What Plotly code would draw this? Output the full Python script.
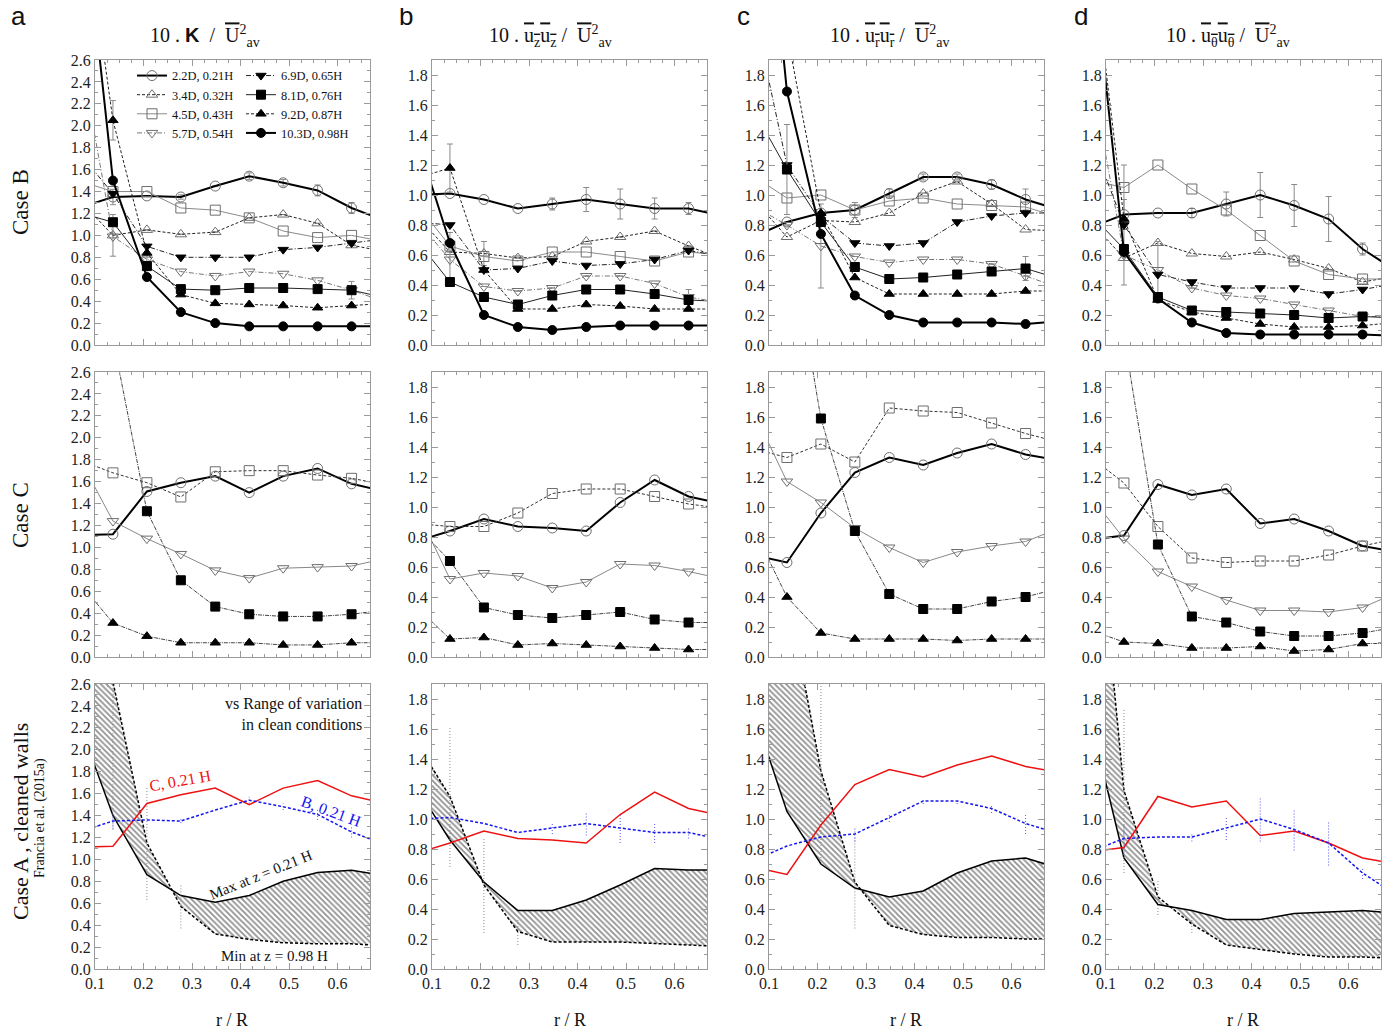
import plotly.graph_objects as go
from plotly.subplots import make_subplots

# target picture size and the page's default body offset
W, H = 1392, 1032
OFF = 8
FW, FH = W - OFF, H - OFF
SERIF = "Liberation Serif"
SANS = "Liberation Sans"

# radial positions r/R (first and last points lie just outside the plotted window)
R = [0.066, 0.137, 0.207, 0.277, 0.348, 0.418, 0.488, 0.559, 0.629, 0.700]

STATIONS_B = ["2.2D", "3.4D", "4.5D", "5.7D", "6.9D", "8.1D", "9.2D", "10.3D"]
HEIGHTS_B = ["0.21H", "0.32H", "0.43H", "0.54H", "0.65H", "0.76H", "0.87H", "0.98H"]
STATIONS_C = ["2.2D", "4.5D", "5.7D", "8.1D", "9.2D"]

# ---------------- Case B ----------------
B_K = {
    "2.2D": [1.25, 1.35, 1.36, 1.35, 1.45, 1.54, 1.48, 1.41, 1.25, 1.13],
    "3.4D": [1.33, 1.00, 1.05, 1.01, 1.03, 1.16, 1.19, 1.11, 0.91, 0.85],
    "4.5D": [1.50, 1.40, 1.40, 1.25, 1.23, 1.16, 1.04, 0.98, 1.00, 0.94],
    "5.7D": [2.74, 0.99, 0.78, 0.67, 0.63, 0.67, 0.65, 0.59, 0.50, 0.39],
    "6.9D": [1.76, 1.38, 0.90, 0.80, 0.80, 0.80, 0.87, 0.89, 0.93, 0.97],
    "8.1D": [1.21, 1.12, 0.72, 0.51, 0.50, 0.52, 0.52, 0.51, 0.50, 0.43],
    "9.2D": [4.30, 2.05, 0.84, 0.46, 0.38, 0.37, 0.36, 0.34, 0.36, 0.38],
    "10.3D": [4.40, 1.50, 0.62, 0.30, 0.20, 0.17, 0.17, 0.17, 0.17, 0.17],
}
B_UZ = {
    "2.2D": [1.00, 1.01, 0.97, 0.91, 0.94, 0.97, 0.94, 0.91, 0.91, 0.86],
    "3.4D": [0.87, 0.62, 0.61, 0.58, 0.59, 0.69, 0.72, 0.76, 0.66, 0.57],
    "4.5D": [0.95, 0.66, 0.59, 0.56, 0.62, 0.62, 0.59, 0.56, 0.62, 0.60],
    "5.7D": [0.84, 0.57, 0.39, 0.36, 0.38, 0.46, 0.46, 0.41, 0.32, 0.28],
    "6.9D": [0.82, 0.80, 0.50, 0.51, 0.56, 0.53, 0.54, 0.57, 0.63, 0.59],
    "8.1D": [0.71, 0.42, 0.32, 0.27, 0.33, 0.37, 0.37, 0.34, 0.30, 0.29],
    "9.2D": [1.11, 1.18, 0.50, 0.24, 0.24, 0.27, 0.26, 0.24, 0.24, 0.24],
    "10.3D": [1.40, 0.68, 0.20, 0.12, 0.10, 0.12, 0.13, 0.13, 0.13, 0.13],
}
B_UR = {
    "2.2D": [0.72, 0.82, 0.88, 0.90, 1.01, 1.12, 1.12, 1.07, 0.97, 0.90],
    "3.4D": [0.98, 0.72, 0.83, 0.82, 0.88, 1.01, 1.09, 0.94, 0.77, 0.76],
    "4.5D": [1.13, 0.98, 1.00, 0.90, 0.96, 0.98, 0.94, 0.93, 0.92, 0.85],
    "5.7D": [0.93, 0.80, 0.66, 0.59, 0.55, 0.57, 0.57, 0.54, 0.46, 0.38],
    "6.9D": [2.27, 1.20, 0.86, 0.68, 0.66, 0.68, 0.82, 0.86, 0.88, 0.88],
    "8.1D": [1.58, 1.17, 0.82, 0.52, 0.44, 0.45, 0.47, 0.49, 0.51, 0.44],
    "9.2D": [3.30, 2.07, 0.88, 0.45, 0.34, 0.34, 0.34, 0.34, 0.36, 0.36],
    "10.3D": [4.00, 1.69, 0.74, 0.33, 0.20, 0.15, 0.15, 0.15, 0.14, 0.16],
}
B_UT = {
    "2.2D": [0.78, 0.87, 0.88, 0.88, 0.94, 1.00, 0.93, 0.84, 0.64, 0.49],
    "3.4D": [0.83, 0.58, 0.68, 0.61, 0.59, 0.62, 0.57, 0.51, 0.42, 0.46],
    "4.5D": [1.10, 1.05, 1.20, 1.04, 0.90, 0.73, 0.56, 0.47, 0.44, 0.44],
    "5.7D": [1.86, 0.60, 0.50, 0.38, 0.33, 0.31, 0.27, 0.23, 0.19, 0.19],
    "6.9D": [1.40, 0.80, 0.47, 0.42, 0.38, 0.38, 0.38, 0.34, 0.37, 0.41],
    "8.1D": [0.88, 0.64, 0.32, 0.23, 0.22, 0.21, 0.20, 0.18, 0.19, 0.18],
    "9.2D": [2.74, 0.84, 0.30, 0.22, 0.18, 0.14, 0.12, 0.12, 0.13, 0.15],
    "10.3D": [2.76, 0.62, 0.31, 0.15, 0.08, 0.07, 0.07, 0.07, 0.07, 0.06],
}
# error bars (half-widths) shown in Case B panels
ERR_B_K = {
    "2.2D": [0, 0.07, 0, 0.02, 0, 0.03, 0.03, 0.05, 0.05, 0],
    "3.4D": [0, 0.19, 0, 0, 0, 0, 0, 0, 0, 0],
    "8.1D": [0, 0, 0.10, 0, 0, 0, 0, 0, 0.08, 0],
    "9.2D": [0, 0.18, 0, 0, 0, 0, 0, 0, 0, 0],
}
ERR_B_UZ = {
    "2.2D": [0, 0, 0, 0, 0.04, 0.08, 0.10, 0.07, 0.04, 0],
    "3.4D": [0, 0, 0.08, 0, 0, 0, 0, 0, 0, 0],
    "5.7D": [0, 0.18, 0, 0, 0, 0, 0, 0, 0, 0],
    "8.1D": [0, 0, 0, 0, 0, 0, 0, 0, 0.07, 0],
    "9.2D": [0, 0.16, 0, 0, 0, 0, 0, 0, 0, 0],
}
ERR_B_UR = {
    "2.2D": [0, 0, 0, 0.05, 0.03, 0.02, 0.02, 0.03, 0.07, 0],
    "5.7D": [0, 0, 0.28, 0, 0, 0, 0, 0, 0, 0],
    "8.1D": [0, 0.30, 0, 0, 0, 0, 0, 0, 0.08, 0],
}
ERR_B_UT = {
    "2.2D": [0, 0.10, 0, 0.03, 0.08, 0.15, 0.14, 0.15, 0.04, 0],
    "5.7D": [0, 0, 0.19, 0, 0, 0, 0, 0, 0, 0],
    "6.9D": [0, 0.40, 0, 0, 0, 0, 0, 0, 0, 0],
}

# ---------------- Case C ----------------
C_K = {
    "2.2D": [1.11, 1.12, 1.51, 1.59, 1.65, 1.50, 1.65, 1.72, 1.58, 1.51],
    "4.5D": [1.80, 1.68, 1.59, 1.46, 1.69, 1.70, 1.70, 1.66, 1.63, 1.57],
    "5.7D": [1.83, 1.24, 1.08, 0.94, 0.79, 0.72, 0.81, 0.82, 0.83, 0.90],
    "8.1D": [4.50, 2.92, 1.33, 0.70, 0.46, 0.39, 0.37, 0.37, 0.39, 0.43],
    "9.2D": [0.69, 0.31, 0.19, 0.13, 0.13, 0.13, 0.11, 0.11, 0.13, 0.13],
}
C_UZ = {
    "2.2D": [0.77, 0.84, 0.92, 0.87, 0.86, 0.84, 1.03, 1.18, 1.07, 1.02],
    "4.5D": [0.89, 0.87, 0.87, 0.96, 1.09, 1.12, 1.12, 1.07, 1.02, 0.99],
    "5.7D": [1.00, 0.52, 0.56, 0.54, 0.46, 0.50, 0.62, 0.61, 0.57, 0.52],
    "8.1D": [0.88, 0.64, 0.33, 0.28, 0.26, 0.28, 0.30, 0.25, 0.23, 0.23],
    "9.2D": [0.34, 0.12, 0.13, 0.08, 0.09, 0.08, 0.07, 0.06, 0.05, 0.05],
}
C_UR = {
    "2.2D": [0.68, 0.63, 0.96, 1.23, 1.33, 1.28, 1.36, 1.42, 1.35, 1.31],
    "4.5D": [1.39, 1.33, 1.42, 1.30, 1.66, 1.64, 1.63, 1.56, 1.49, 1.43],
    "5.7D": [1.65, 1.17, 1.03, 0.86, 0.73, 0.63, 0.70, 0.74, 0.77, 0.86],
    "8.1D": [4.30, 2.92, 1.59, 0.84, 0.42, 0.32, 0.32, 0.37, 0.40, 0.46],
    "9.2D": [0.87, 0.40, 0.16, 0.12, 0.12, 0.12, 0.11, 0.12, 0.12, 0.12],
}
C_UT = {
    "2.2D": [0.78, 0.81, 1.15, 1.08, 1.12, 0.89, 0.92, 0.84, 0.74, 0.70],
    "4.5D": [1.34, 1.16, 0.87, 0.66, 0.63, 0.64, 0.64, 0.68, 0.74, 0.79],
    "5.7D": [1.08, 0.79, 0.57, 0.47, 0.38, 0.31, 0.31, 0.30, 0.33, 0.43],
    "8.1D": [3.50, 2.14, 0.75, 0.27, 0.23, 0.17, 0.14, 0.14, 0.16, 0.20],
    "9.2D": [0.18, 0.10, 0.09, 0.06, 0.06, 0.07, 0.04, 0.05, 0.09, 0.09],
}

# ---------------- Case A (clean walls): range of variation ----------------
A_MAX_K = [2.26, 1.40, 0.86, 0.67, 0.61, 0.67, 0.80, 0.88, 0.90, 0.85]
A_MIN_K = [4.50, 2.62, 1.15, 0.57, 0.32, 0.27, 0.24, 0.23, 0.23, 0.21]
A_MAX_UZ = [1.22, 0.86, 0.58, 0.39, 0.39, 0.46, 0.56, 0.67, 0.66, 0.66]
A_MIN_UZ = [1.52, 1.15, 0.56, 0.25, 0.18, 0.18, 0.18, 0.17, 0.16, 0.15]
A_MAX_UR = [1.74, 1.05, 0.70, 0.54, 0.48, 0.52, 0.64, 0.72, 0.74, 0.67]
A_MIN_UR = [3.76, 2.53, 1.32, 0.58, 0.29, 0.23, 0.21, 0.21, 0.20, 0.20]
A_MAX_UT = [1.69, 0.74, 0.43, 0.39, 0.33, 0.33, 0.37, 0.38, 0.39, 0.37]
A_MIN_UT = [3.60, 1.19, 0.48, 0.30, 0.16, 0.13, 0.10, 0.08, 0.08, 0.07]
A_MIN_ERR_K = [0, 1.35, 0.52, 0.20, 0, 0, 0, 0, 0, 0]
A_MIN_ERR_UZ = [0, 0.47, 0.32, 0.09, 0, 0, 0, 0, 0, 0]
A_MIN_ERR_UR = [0, 0, 0.60, 0.31, 0, 0, 0, 0, 0, 0]
A_MIN_ERR_UT = [0, 0.55, 0.12, 0.06, 0, 0, 0, 0, 0, 0]

COL_B = [B_K, B_UZ, B_UR, B_UT]
COL_BERR = [ERR_B_K, ERR_B_UZ, ERR_B_UR, ERR_B_UT]
COL_C = [C_K, C_UZ, C_UR, C_UT]
COL_AMAX = [A_MAX_K, A_MAX_UZ, A_MAX_UR, A_MAX_UT]
COL_AMIN = [A_MIN_K, A_MIN_UZ, A_MIN_UR, A_MIN_UT]
COL_AMINERR = [A_MIN_ERR_K, A_MIN_ERR_UZ, A_MIN_ERR_UR, A_MIN_ERR_UT]

X_TICKS = [0.1, 0.2, 0.3, 0.4, 0.5, 0.6]
Y_MAX = [2.6, 1.9, 1.9, 1.9]

GRAY = "#6e6e6e"
DASH = "3px,2px"
DASHDOT = "5px,2px,1px,2px"
STYLE_B = {
    "2.2D": ("circle-open", GRAY, "black", 2.0, "solid"),
    "3.4D": ("triangle-up-open", GRAY, "#222", 1.0, DASH),
    "4.5D": ("square-open", GRAY, "#8a8a8a", 1.0, "solid"),
    "5.7D": ("triangle-down-open", GRAY, "#777", 1.0, DASHDOT),
    "6.9D": ("triangle-down", "black", "#222", 1.0, DASHDOT),
    "8.1D": ("square", "black", "#222", 1.0, "solid"),
    "9.2D": ("triangle-up", "black", "#222", 1.0, DASH),
    "10.3D": ("circle", "black", "black", 2.0, "solid"),
}
STYLE_C = {
    "2.2D": ("circle-open", GRAY, "black", 2.0, "solid"),
    "4.5D": ("square-open", GRAY, "#333", 1.0, DASH),
    "5.7D": ("triangle-down-open", GRAY, "#888", 1.0, "solid"),
    "8.1D": ("square", "black", "#444", 1.0, "4px,1px,1px,1px"),
    "9.2D": ("triangle-up", "black", "#444", 1.0, "4px,1px,1px,1px"),
}


def fx(px):
    return (px - OFF) / FW


def fy(py):
    return 1 - (py - OFF) / FH


fig = make_subplots(rows=3, cols=4)


def add_series(r, c, y, sty, name=None, legend=None, err=None):
    sym, mcol, lcol, lw, dash = sty
    filled = not sym.endswith("open")
    tr = go.Scatter(
        x=R, y=y, mode="lines+markers", name=name,
        showlegend=name is not None,
        line=dict(color=lcol, width=lw, dash=dash),
        marker=dict(symbol=sym, size=9 if filled else 10, color=mcol,
                    line=dict(width=1, color=mcol)),
        hoverinfo="skip",
    )
    if legend is not None:
        tr.legend = legend
    if err is not None:
        tr.error_y = dict(type="data", array=[e if e else None for e in err],
                          color="#8a8a8a", thickness=1, width=3)
    fig.add_trace(tr, row=r, col=c)


def add_dotted_bars(r, c, y, err, color):
    xs, ys = [], []
    for xv, yv, ev in zip(R, y, err):
        if ev:
            xs += [xv, xv, None]
            ys += [yv - ev, yv + ev, None]
    fig.add_trace(go.Scatter(x=xs, y=ys, mode="lines", showlegend=False,
                             line=dict(color=color, width=1, dash="1px,2px"),
                             hoverinfo="skip"), row=r, col=c)


for c in range(4):
    # row 1 : case B
    data = COL_B[c]
    errs = COL_BERR[c]
    for k, st in enumerate(STATIONS_B):
        name = None
        leg = None
        if c == 0:
            name = f"{st}, {HEIGHTS_B[k]}"
            leg = "legend" if k < 4 else "legend2"
        add_series(1, c + 1, data[st], STYLE_B[st], name, leg, errs.get(st))
    # row 2 : case C
    data = COL_C[c]
    for st in STATIONS_C:
        add_series(2, c + 1, data[st], STYLE_C[st])
    # row 3 : case A band + C/B at 0.21H
    fig.add_trace(go.Scatter(x=R, y=COL_AMIN[c], mode="lines", showlegend=False,
                             line=dict(color="black", width=1.5, dash=DASH),
                             hoverinfo="skip"), row=3, col=c + 1)
    fig.add_trace(go.Scatter(x=R, y=COL_AMAX[c], mode="lines", showlegend=False,
                             line=dict(color="black", width=1.5),
                             fill="tonexty", fillcolor="rgba(255,255,255,0)",
                             fillpattern=dict(shape="\\", fgcolor="#222", bgcolor="white",
                                              size=4, solidity=0.45),
                             hoverinfo="skip"), row=3, col=c + 1)
    add_dotted_bars(3, c + 1, COL_AMIN[c], COL_AMINERR[c], "#888")
    fig.add_trace(go.Scatter(x=R, y=COL_C[c]["2.2D"], mode="lines", showlegend=False,
                             line=dict(color="#ee1111", width=1.5), hoverinfo="skip"),
                  row=3, col=c + 1)
    fig.add_trace(go.Scatter(x=R, y=COL_B[c]["2.2D"], mode="lines", showlegend=False,
                             line=dict(color="#1515ee", width=1.5, dash=DASH), hoverinfo="skip"),
                  row=3, col=c + 1)
    add_dotted_bars(3, c + 1, COL_B[c]["2.2D"], COL_BERR[c]["2.2D"], "#5555ee")

# ---------------- axes / layout ----------------
COLS_PX = [(95, 370), (432, 707), (769, 1044), (1106, 1381)]
ROWS_PX = [(60, 345), (372, 657), (684, 969)]
FRAME = "#9a9a9a"
for r in range(1, 4):
    for c in range(1, 5):
        i = (r - 1) * 4 + c
        xa = "xaxis" if i == 1 else f"xaxis{i}"
        ya = "yaxis" if i == 1 else f"yaxis{i}"
        x0, x1 = COLS_PX[c - 1]
        y0, y1 = ROWS_PX[r - 1]
        fig.layout[xa].update(
            domain=[fx(x0), fx(x1)], range=[0.1, 0.667],
            tickmode="array", tickvals=X_TICKS, tickformat=".1f",
            showticklabels=(r == 3), automargin=False,
            ticks="inside", ticklen=6, tickcolor=FRAME,
            minor=dict(ticks="inside", ticklen=3, tickcolor=FRAME, tick0=0.1, dtick=0.025),
            showline=True, linecolor=FRAME, linewidth=1, mirror="allticks",
            showgrid=False, zeroline=False,
            tickfont=dict(family=SERIF, size=16, color="#222"),
        )
        fig.layout[ya].update(
            domain=[fy(y1), fy(y0)], range=[0, Y_MAX[c - 1]],
            tick0=0, dtick=0.2, tickformat=".1f", automargin=False,
            ticks="inside", ticklen=6, tickcolor=FRAME,
            minor=dict(ticks="inside", ticklen=3, tickcolor=FRAME, tick0=0, dtick=0.1),
            showline=True, linecolor=FRAME, linewidth=1, mirror="allticks",
            showgrid=False, zeroline=False,
            tickfont=dict(family=SERIF, size=16, color="#222"),
        )

ann = []


def pa(text, px, py, size=18, family=SERIF, angle=0, color="#111", xanchor="center", yanchor="middle"):
    ann.append(dict(text=text, x=fx(px), y=fy(py), xref="paper", yref="paper",
                    showarrow=False, textangle=angle, xanchor=xanchor, yanchor=yanchor,
                    font=dict(family=family, size=size, color=color)))


for letter, px in zip("abcd", [18, 406, 744, 1081]):
    pa(letter, px, 16, size=26, family=SANS)

OV = "<span style='text-decoration:overline'>"
UAV = OV + "U</span><sup>2</sup><sub>av</sub>"
TITLES = [
    "10 . <span style='font-family:Liberation Sans'><b>K</b></span>  /  " + UAV,
    "10 . " + OV + "u<sub>z</sub>u<sub>z</sub></span> /  " + UAV,
    "10 . " + OV + "u<sub>r</sub>u<sub>r</sub></span> /  " + UAV,
    "10 . " + OV + "u<sub>θ</sub>u<sub>θ</sub></span> /  " + UAV,
]
for t, px in zip(TITLES, [205, 550, 890, 1228]):
    pa(t, px, 36, size=20)

for px in [232, 570, 906, 1243]:
    pa("r / R", px, 1020, size=18)

pa("Case B", 20, 202, size=23, angle=-90)
pa("Case C", 20, 515, size=23, angle=-90)
pa("Case A , cleaned walls", 20, 822, size=22, angle=-90)
pa("Francia et al. (2015a)", 40, 818, size=14, angle=-90)


def da(text, x, y, size=16, angle=0, color="#111"):
    ann.append(dict(text=text, x=x, y=y, xref="x9", yref="y9", showarrow=False,
                    textangle=angle, font=dict(family=SERIF, size=size, color=color)))


ann.append(dict(text="vs Range of variation<br>in clean conditions", x=0.655, y=2.52,
                xref="x9", yref="y9", showarrow=False, xanchor="right", yanchor="top",
                align="right", font=dict(family=SERIF, size=16, color="#111")))
da("C, 0.21 H", 0.277, 1.72, angle=-10, color="#ee1111")
da("B, 0.21 H", 0.588, 1.44, angle=20, color="#1515ee")
da("Max at z = 0.21 H", 0.441, 0.86, size=15, angle=-22)
da("Min at z = 0.98 H", 0.47, 0.12, size=15)

LEG_FONT = dict(family=SERIF, size=12.4, color="#111")
fig.update_layout(
    width=FW, height=FH,
    margin=dict(l=0, r=0, t=0, b=0, autoexpand=False),
    paper_bgcolor="white", plot_bgcolor="white",
    annotations=ann,
    legend=dict(x=fx(132), y=fy(61), xanchor="left", yanchor="top",
                traceorder="normal", bgcolor="rgba(0,0,0,0)", itemwidth=30,
                tracegroupgap=0, font=LEG_FONT),
    legend2=dict(x=fx(241), y=fy(61), xanchor="left", yanchor="top",
                 traceorder="normal", bgcolor="rgba(0,0,0,0)", itemwidth=30,
                 tracegroupgap=0, font=LEG_FONT),
)

fig.write_html("out.html")
